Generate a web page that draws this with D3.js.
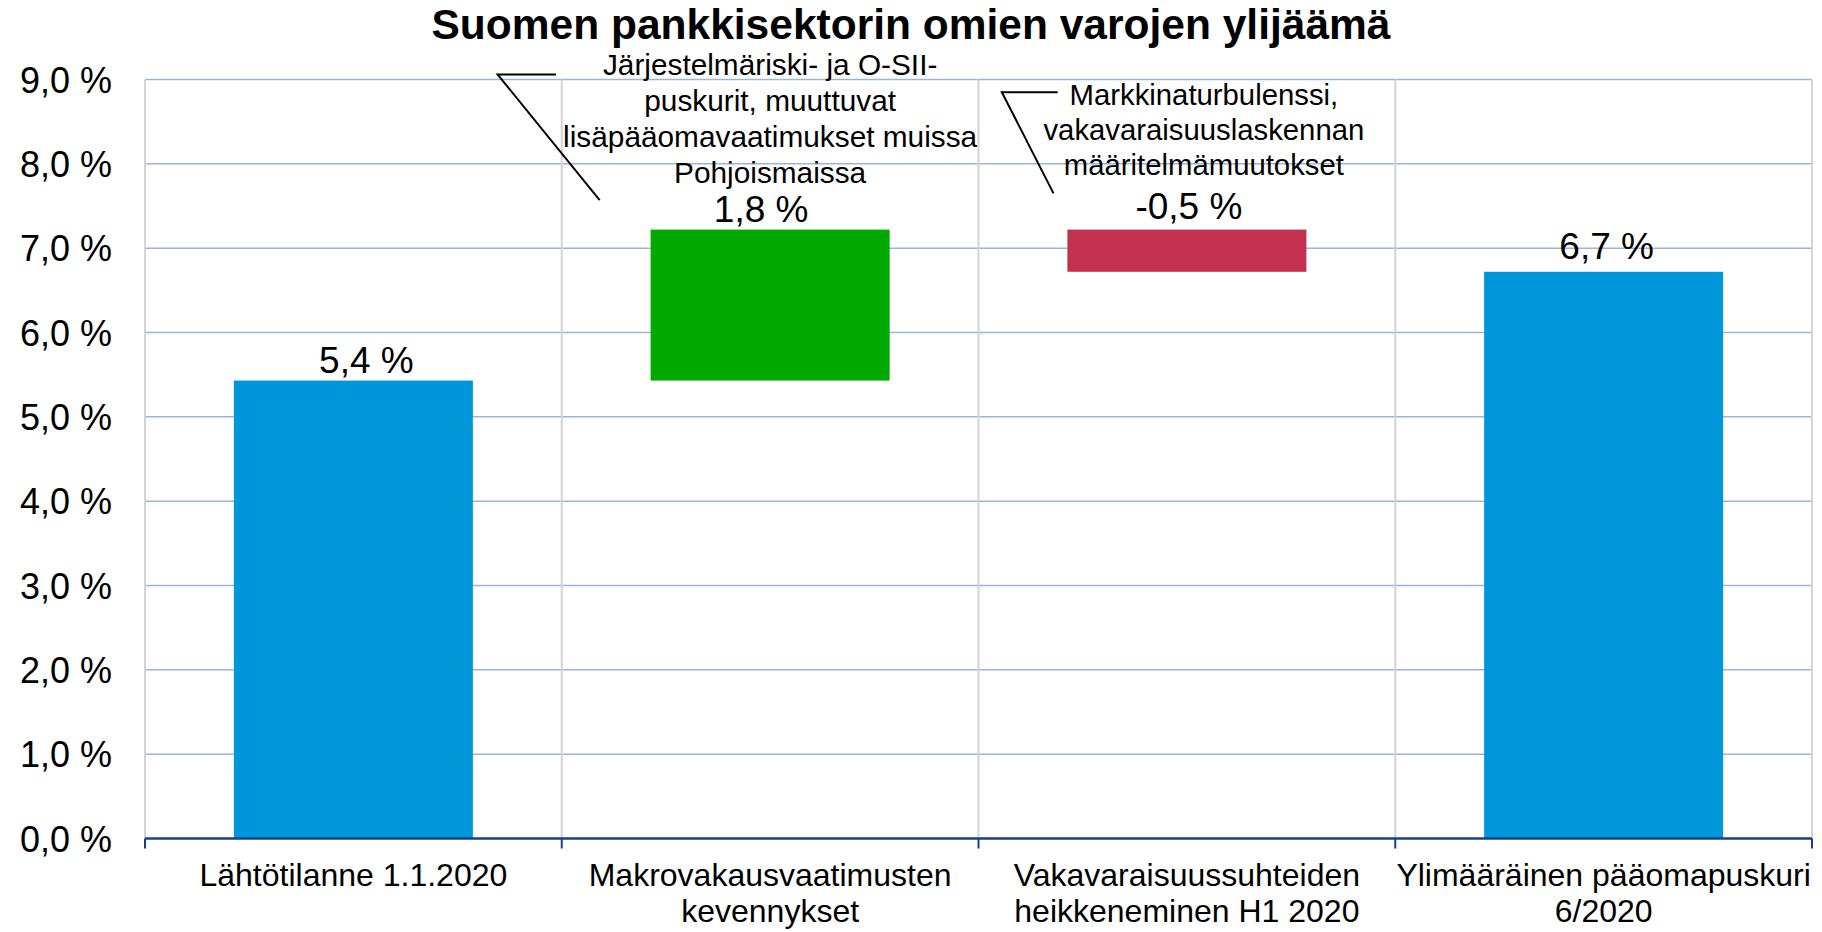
<!DOCTYPE html>
<html>
<head>
<meta charset="utf-8">
<script src="https://cdn.jsdelivr.net/npm/d3@7"></script>
<style>
  body { margin: 0; background: #fff; }
  text { font-family: Arial, "Liberation Sans", sans-serif; fill: #000; }
</style>
</head>
<body>
<div id="chart"></div>
<script>
// data
var title = "Suomen pankkisektorin omien varojen ylijäämä";
var categories = ["Lähtötilanne 1.1.2020", "Makrovakausvaatimusten kevennykset",
                  "Vakavaraisuussuhteiden heikkeneminen H1 2020", "Ylimääräinen pääomapuskuri 6/2020"];
var categoryLines = [["Lähtötilanne 1.1.2020"],
                     ["Makrovakausvaatimusten", "kevennykset"],
                     ["Vakavaraisuussuhteiden", "heikkeneminen H1 2020"],
                     ["Ylimääräinen pääomapuskuri", "6/2020"]];
var changes = [5.43, 1.79, -0.50, 6.72];
var kinds = ["total", "delta", "delta", "total"];
var yTicks = [0, 1, 2, 3, 4, 5, 6, 7, 8, 9];
var noteLines1 = ["Järjestelmäriski- ja O-SII-", "puskurit, muuttuvat", "lisäpääomavaatimukset muissa", "Pohjoismaissa"];
var noteLines2 = ["Markkinaturbulenssi,", "vakavaraisuuslaskennan", "määritelmämuutokset"];

var W = 1822, H = 932;
var margin = {top: 79.5, right: 10, bottom: 93.5, left: 145};
// hand-placed value labels in the original (pixel nudges)
var labelNudge = [[13, 0], [-9, 0], [2, -3], [3, -5]];

var svg = d3.select("#chart").append("svg")
    .attr("width", W).attr("height", H);

var x = d3.scaleBand().domain(categories).range([margin.left, W - margin.right]);
var y = d3.scaleLinear().domain([0, 9]).range([H - margin.bottom, margin.top]);
var bw = x.bandwidth() * 0.5735;

// build bar extents (waterfall)
var running = 0;
var bars = changes.map(function(v, i) {
    var b;
    if (kinds[i] === "total") { b = {lo: 0, hi: v}; running = v; }
    else { b = {lo: Math.min(running, running + v), hi: Math.max(running, running + v)}; running += v; }
    b.cat = categories[i]; b.v = v; b.kind = kinds[i]; b.i = i;
    return b;
});
var colorOf = function(d) {
    if (d.kind === "total") return "#0096da";
    return d.v >= 0 ? "#00a900" : "#c3314f";
};

// horizontal gridlines
svg.append("g").selectAll("line").data(yTicks.slice(1)).enter().append("line")
    .attr("x1", margin.left).attr("x2", W - margin.right)
    .attr("y1", function(d) { return y(d); }).attr("y2", function(d) { return y(d); })
    .style("stroke", "#98b6dc").style("stroke-width", 1.5);

// vertical gridlines at category boundaries
var bounds = categories.map(function(c) { return x(c); }).concat([W - margin.right]);
svg.append("g").selectAll("line").data(bounds).enter().append("line")
    .attr("x1", function(d) { return d; }).attr("x2", function(d) { return d; })
    .attr("y1", y(9)).attr("y2", y(0))
    .style("stroke", "#d4d4d4").style("stroke-width", 2);

// bars
svg.append("g").selectAll("rect").data(bars).enter().append("rect")
    .attr("x", function(d) { return x(d.cat) + (x.bandwidth() - bw) / 2; })
    .attr("width", bw)
    .attr("y", function(d) { return y(d.hi); })
    .attr("height", function(d) { return y(d.lo) - y(d.hi); })
    .style("fill", colorOf);

// value labels
var fmt = function(v) { return d3.format(".1f")(v).replace("−", "-").replace(".", ",") + " %"; };
svg.append("g").selectAll("text").data(bars).enter().append("text")
    .attr("x", function(d) { return x(d.cat) + x.bandwidth() / 2 + labelNudge[d.i][0]; })
    .attr("y", function(d) { return y(d.hi) - 8 + labelNudge[d.i][1]; })
    .attr("text-anchor", "middle")
    .style("font-size", "37px")
    .text(function(d) { return fmt(d.v); });

// y axis
var yAxis = svg.append("g")
    .attr("transform", "translate(" + margin.left + ",0)")
    .call(d3.axisLeft(y).tickValues(yTicks).tickSize(0).tickPadding(33)
        .tickFormat(function(d) { return d3.format(".1f")(d).replace(".", ",") + " %"; }));
yAxis.select(".domain").remove();
yAxis.selectAll("text").style("font-size", "36px").attr("dy", "0.35em");

// x axis
svg.append("line")
    .attr("x1", margin.left).attr("x2", W - margin.right)
    .attr("y1", y(0)).attr("y2", y(0))
    .style("stroke", "#173f8f").style("stroke-width", 2.5);
svg.append("g").selectAll("line").data(bounds).enter().append("line")
    .attr("x1", function(d) { return d; }).attr("x2", function(d) { return d; })
    .attr("y1", y(0)).attr("y2", y(0) + 10)
    .style("stroke", "#173f8f").style("stroke-width", 2);

var xl = svg.append("g").selectAll("text").data(categories).enter().append("text")
    .attr("text-anchor", "middle")
    .style("font-size", "32px");
xl.selectAll("tspan").data(function(d, i) { return categoryLines[i].map(function(l) { return {l: l, c: d}; }); })
    .enter().append("tspan")
    .attr("x", function(d) { return x(d.c) + x.bandwidth() / 2; })
    .attr("y", function(d, j) { return y(0) + 47 + j * 36; })
    .text(function(d) { return d.l; });

// title
svg.append("text")
    .attr("x", W / 2).attr("y", 39)
    .attr("text-anchor", "middle")
    .style("font-size", "42.5px").style("font-weight", "bold")
    .text(title);

// annotations with leader lines
function note(lines, cat, dx, firstY, lh, size, leader) {
    var cx = x(cat) + x.bandwidth() / 2 + dx;
    var t = svg.append("text").attr("text-anchor", "middle").style("font-size", size + "px");
    lines.forEach(function(l, j) {
        t.append("tspan").attr("x", cx).attr("y", y(firstY) + j * lh).text(l);
    });
    var line = d3.line()
        .x(function(p) { return x(cat) + p[0] * x.bandwidth(); })
        .y(function(p) { return y(p[1]); });
    svg.append("path").attr("d", line(leader))
        .style("fill", "none").style("stroke", "#000").style("stroke-width", 2);
}
note(noteLines1, categories[1], 0, 9.05, 36, 29.8, [[-0.014, 9.06], [-0.154, 9.06], [0.091, 7.57]]);
note(noteLines2, categories[2], 17, 8.70, 35, 29.3, [[0.19, 8.85], [0.056, 8.85], [0.18, 7.65]]);
</script>
</body>
</html>
